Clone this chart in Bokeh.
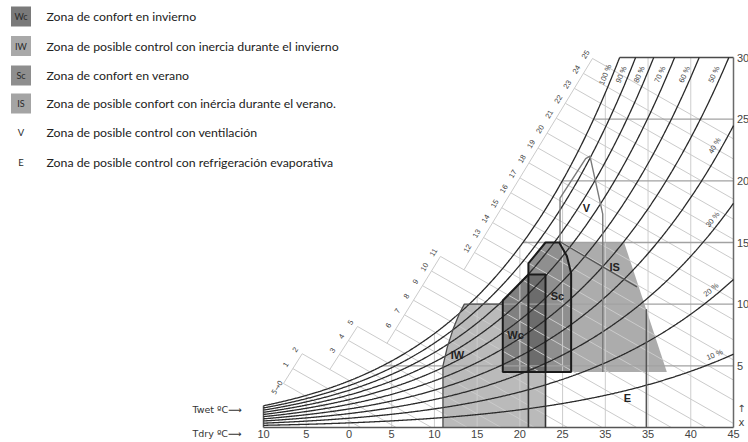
import math
import numpy as np
from bokeh.plotting import figure
from bokeh.models import Range1d
from bokeh.core.properties import value
from bokeh.embed import file_html
from bokeh.resources import INLINE

# ---------------- chart values ----------------
rh_levels = [1.0, 0.9, 0.8, 0.7, 0.6, 0.5, 0.4, 0.3, 0.2, 0.1]
rh_texts = ["100 %", "90 %", "80 %", "70 %", "60 %", "50 %", "40 %", "30 %", "20 %", "10 %"]
rh_label_W = [28.4, 28.4, 28.4, 28.4, 28.4, 28.4, None, None, None, None]
rh_label_T = [None, None, None, None, None, None, 43.5, 43.2, 42.9, 43.1]
tdry_values = [-10, -5, 0, 5, 10, 15, 20, 25, 30, 35, 40, 45]
tdry_texts = ["10", "5", "0", "5", "10", "15", "20", "25", "35", "35", "40", "45"]
tdry_grid = [-5, 0, 5, 10, 15, 20, 25, 30, 35, 40]
x_values = [5, 10, 15, 20, 25, 30]
x_texts = ["5", "10", "15", "20", "25", "30"]
twet_texts = ["5\u21920"] + [str(i) for i in range(1, 26)]
twet_groups = [(0, 2), (3, 5), (6, 11), (12, 25)]
twet_scale_T = [(-7.66, -5.47), (-1.11, 1.00), (5.45, 10.71), (14.69, 28.50)]
twet_scale_W = [(3.57, 5.98), (5.92, 8.19), (7.95, 13.87), (14.19, 29.92)]
twet_slope = 0.395

# zones: dry temperature (°C) / humidity ratio x (g/kg)
iw_T = [11.0, 11.0, 11.5, 12.2, 12.9, 13.5, 18.0, 18.0, 23.0, 23.0]
iw_W = [0.0, 5.0, 6.5, 8.0, 9.2, 10.0, 10.0, 4.5, 4.5, 0.0]
is_T = [21.0, 21.0, 23.0, 32.2, 37.2]
is_W = [4.5, 13.3, 15.0, 15.0, 4.5]
sc_T = [21.0, 21.0, 23.0, 24.6, 25.5, 26.0, 26.0]
sc_W = [4.5, 13.3, 15.0, 15.0, 13.9, 12.5, 4.5]
wc_T = [18.0, 18.0, 21.0, 23.0, 23.0]
wc_W = [4.5, 10.3, 12.4, 12.4, 4.5]
v_T = [24.7, 24.7, 27.7, 28.2, 29.7, 29.7]
v_W = [15.0, 18.6, 21.8, 22.0, 17.3, 4.5]
e_T = [24.6, 33.7]
e_W = [15.1, 11.4]
e_limit_T = [34.8, 34.8]
e_limit_W = [0.0, 9.6]
low_T = [21.0, 23.0]
low_W = [0.0, 4.5]

zone_names = ["IW", "Wc", "Sc", "IS", "V", "E"]
zone_label_T = [12.7, 19.5, 24.4, 31.1, 27.8, 32.6]
zone_label_W = [5.9, 7.5, 10.7, 13.05, 17.8, 2.4]

legend_keys = ["Wc", "IW", "Sc", "IS", "V", "E"]
legend_texts = [
    "Zona de confort en invierno",
    "Zona de posible control con inercia durante el invierno",
    "Zona de confort en verano",
    "Zona de posible confort con inércia durante el verano.",
    "Zona de posible control con ventilación",
    "Zona de posible control con refrigeración evaporativa",
]
legend_colors = ["#7a7a7a", "#a9a9a9", "#8e8e8e", "#a4a4a4", None, None]

# ---------------- psychrometrics ----------------
P_ATM = 101.325


def psat(t):
    return 0.61094 * np.exp(17.625 * t / (t + 243.04))


def w_of(t, phi):
    pv = phi * psat(t)
    return 622.0 * pv / (P_ATM - pv)


def t_of(w, phi):
    pv = w * P_ATM / (622.0 + w)
    g = np.log(pv / phi / 0.61094)
    return 243.04 * g / (17.625 - g)


# ---------------- layout (page pixels) ----------------
FW, FH = 748, 442
XL, XR = 263.0, 733.0   # px of T=-10 and T=45
YB, YT = 427.0, 57.0    # px of x=0 and x=30
SX = (XR - XL) / 55.0
SY = (YB - YT) / 30.0


def T_at(px):
    return -10.0 + (px - XL) / SX


def W_at(py):
    return (YB - py) / SY


p = figure(width=FW, height=FH,
           x_range=Range1d(T_at(0), T_at(FW)),
           y_range=Range1d(W_at(FH), W_at(0)),
           min_border=0, x_axis_type=None, y_axis_type=None,
           toolbar_location=None, output_backend="svg")
p.outline_line_color = None
p.background_fill_color = "white"
p.border_fill_color = "white"

# ---------------- zone fills ----------------
p.patch(iw_T, iw_W, fill_color="#bababa", line_color=None)
p.patch(is_T, is_W, fill_color="#acacac", line_color=None)
p.patch(sc_T, sc_W, fill_color="#8f8f8f", line_color=None)
p.patch(wc_T, wc_W, fill_color="#808080", line_color=None)
ov_T0, ov_T1 = min(sc_T), max(wc_T)
ov_W0, ov_W1 = min(wc_W), max(wc_W)
p.patch([ov_T0, ov_T0, ov_T1, ov_T1], [ov_W0, ov_W1, ov_W1, ov_W0],
        fill_color="#6c6c6c", line_color=None)

# ---------------- light grid: dry bulb verticals ----------------
p.multi_line([[t, t] for t in tdry_grid],
             [[0.0, float(min(w_of(t, 1.0), 30.0))] for t in tdry_grid],
             line_color="#cdcdcd", line_width=1)

# ---------------- wet bulb lines and scale ----------------
wb_xs, wb_ys, seg_xs, seg_ys = [], [], [], []
lab_T, lab_W, lab_txt, lab_ang = [], [], [], []
first_T, first_W, first_ang = [], [], []
prev = None
for g, (a, b) in enumerate(twet_groups):
    Ta, Tb = twet_scale_T[g]
    Wa, Wb = twet_scale_W[g]
    dT = (Tb - Ta) / (b - a)
    dW = (Wb - Wa) / (b - a)
    ang = math.atan2(dW * SY, dT * SX)
    for i in range(a, b + 1):
        Ts = Ta + (i - a) * dT
        Ws = Wa + (i - a) * dW
        Te = min(45.0, Ts + Ws / twet_slope)
        We = Ws - twet_slope * (Te - Ts)
        wb_xs.append([Ts, Te])
        wb_ys.append([Ws, We])
        if i == 0:
            first_T.append(Ts - 2.0 / SX)
            first_W.append(Ws + 2.0 / SY)
            first_ang.append(ang)
        else:
            lab_T.append(Ts - 7.0 / SX)
            lab_W.append(Ws + 4.0 / SY)
            lab_txt.append(twet_texts[i])
            lab_ang.append(ang)
    if prev is None:
        t0 = 0.0
    else:
        Tp, Wp = prev
        t0 = (Wp - twet_slope * (Ta - Tp) - Wa) / (dW + twet_slope * dT)
    seg_xs.append([Ta + t0 * dT, Tb])
    seg_ys.append([Wa + t0 * dW, Wb])
    prev = (Tb, Wb)

p.multi_line(wb_xs, wb_ys, line_color="#cbcbcb", line_width=1)
p.multi_line(seg_xs, seg_ys, line_color="#cbcbcb", line_width=1)

# ---------------- humidity ratio horizontals and frame ----------------
hw = x_values[:-1]
p.multi_line([[float(t_of(w, 1.0)), 45.0] for w in hw], [[w, w] for w in hw],
             line_color="#a2a2a2", line_width=1.4)
p.line([float(t_of(30.0, 1.0)), 45.0], [30.0, 30.0], line_color="#4a4a4a", line_width=1.5)
p.line([45.0, 45.0], [0.0, 30.0], line_color="#6a6a6a", line_width=1.5)
p.line([-10.0, 45.0], [0.0, 0.0], line_color="#555555", line_width=1.5)
p.line([-10.0, -10.0], [0.0, float(w_of(-10.0, 1.0))], line_color="#555555", line_width=1.5)

# ---------------- relative humidity curves ----------------
tt = np.arange(-10.0, 45.0001, 0.1)
rh_xs, rh_ys = [], []
for phi in rh_levels:
    ww = w_of(tt, phi)
    m = ww <= 30.0
    xs = list(tt[m])
    ys = list(ww[m])
    if not m.all():
        xs.append(float(t_of(30.0, phi)))
        ys.append(30.0)
    rh_xs.append(xs)
    rh_ys.append(ys)
p.multi_line(rh_xs, rh_ys, line_color="#2a2a2a", line_width=1.3)

# ---------------- zone outlines ----------------
p.line(iw_T[:7], iw_W[:7], line_color="#4d4d4d", line_width=1.3)
p.multi_line([[t, t] for t in low_T], [low_W for _ in low_T], line_color="#333333", line_width=1.6)
p.line(v_T, v_W, line_color="#7a7a7a", line_width=1.4)
p.line(e_T, e_W, line_color="#555555", line_width=1.3)
p.line(e_limit_T, e_limit_W, line_color="#555555", line_width=1.5)
p.patch(sc_T, sc_W, fill_color=None, line_color="#1a1a1a", line_width=2)
p.patch(wc_T, wc_W, fill_color=None, line_color="#1a1a1a", line_width=2)

# ---------------- texts ----------------
SANS = value("Liberation Sans")

# wet bulb scale labels
p.text(lab_T, lab_W, text=lab_txt, angle=lab_ang, text_align="center", text_baseline="middle",
       text_font=SANS, text_font_size="7.5px", text_color="#444444")
p.text(first_T, first_W, text=[twet_texts[0]], angle=first_ang, text_align="right",
       text_baseline="middle", text_font=value("DejaVu Sans"), text_font_size="7px",
       text_color="#444444")

# relative humidity labels
rl_T, rl_W, rl_a = [], [], []
for phi, wl, tl in zip(rh_levels, rh_label_W, rh_label_T):
    if wl is not None:
        t0 = float(t_of(wl, phi))
        w0 = wl
    else:
        t0 = tl
        w0 = float(w_of(tl, phi))
    dwdt = float((w_of(t0 + 0.05, phi) - w_of(t0 - 0.05, phi)) / 0.1)
    a = math.atan2(dwdt * SY, SX)
    rl_T.append(t0 - 7.0 * math.sin(a) / SX)
    rl_W.append(w0 + 7.0 * math.cos(a) / SY)
    rl_a.append(a)
p.text(rl_T, rl_W, text=rh_texts, angle=rl_a, text_align="center", text_baseline="middle",
       text_font=SANS, text_font_size="7.5px", text_color="#444444")

# zone letters
p.text(zone_label_T, zone_label_W, text=zone_names, text_align="center", text_baseline="middle",
       text_font=SANS, text_font_size="11px", text_font_style="bold", text_color="#222222")

# axis tick texts
p.text(tdry_values, [W_at(433.0)] * len(tdry_values), text=tdry_texts, text_align="center",
       text_baseline="middle", text_font=SANS, text_font_size="11px", text_color="#444444")
p.text([T_at(XR + 3.5)] * len(x_values), x_values, text=x_texts, text_align="left",
       text_baseline="middle", text_font=SANS, text_font_size="11px", text_color="#444444")
p.text([T_at(XR + 8.0)] * 2, [W_at(408.0), W_at(421.5)], text=["\u2191", "x"], text_align="center",
       text_baseline="middle", text_font=value("DejaVu Sans"), text_font_size="10px",
       text_color="#444444")
p.text([T_at(192.0)] * 2, [W_at(408.5), W_at(433.0)], text=["Twet \u00baC\u27f6", "Tdry \u00baC\u27f6"],
       text_align="left", text_baseline="middle", text_font=value("DejaVu Sans"),
       text_font_size="9.5px", text_color="#333333")

# ---------------- legend ----------------
row_px = [16.0, 45.5, 75.0, 103.0, 132.0, 161.5]
sw_T, sw_W, sw_c, sw_k = [], [], [], []
pl_T, pl_W, pl_k = [], [], []
for k, c, ry in zip(legend_keys, legend_colors, row_px):
    if c is not None:
        sw_T.append(T_at(20.5))
        sw_W.append(W_at(ry))
        sw_c.append(c)
        sw_k.append(k)
    else:
        pl_T.append(T_at(20.5))
        pl_W.append(W_at(ry))
        pl_k.append(k)
p.rect(sw_T, sw_W, width=20, height=20, width_units="screen", height_units="screen",
       fill_color=sw_c, line_color=None)
p.text(sw_T, sw_W, text=sw_k, text_align="center", text_baseline="middle",
       text_font=value("Lato"), text_font_size="9px", text_color="#2a2a2a")
p.text(pl_T, pl_W, text=pl_k, text_align="center", text_baseline="middle",
       text_font=value("Lato"), text_font_size="9.5px", text_color="#2a2a2a")
p.text([T_at(46.0)] * len(legend_texts), [W_at(r) for r in row_px], text=legend_texts,
       text_align="left", text_baseline="middle", text_font=value("Lato"),
       text_font_size="12.3px", text_color="#222222")

open("out.html", "w").write(file_html(p, INLINE))
